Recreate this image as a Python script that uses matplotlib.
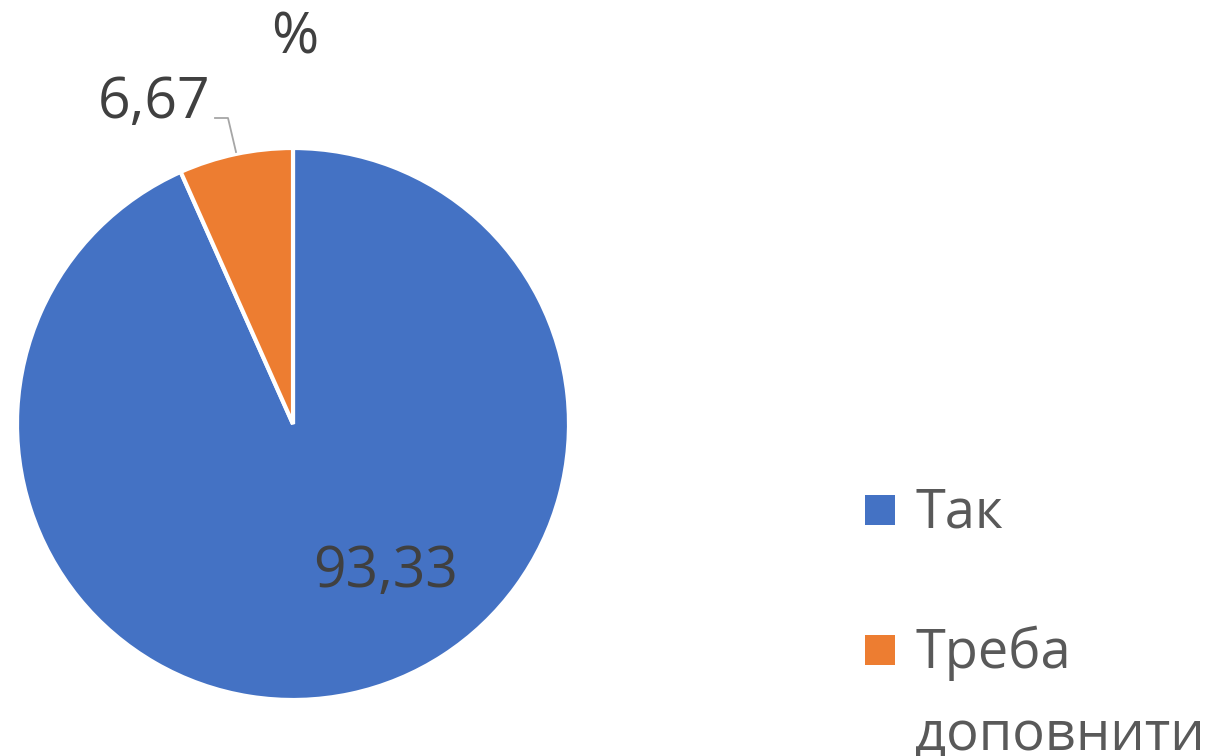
import matplotlib
matplotlib.use("Agg")
import matplotlib.pyplot as plt
from matplotlib.patches import Rectangle

labels = ["Так", "Треба\nдоповнити"]
values = [93.33, 6.67]
value_labels = ["93,33", "6,67"]
colors = ["#4472C4", "#ED7D31"]

W, H = 1215, 756
plt.rcParams["font.family"] = ["Open Sans", "DejaVu Sans"]


def fx(px):
    return px / W


def fy(py):
    return 1 - py / H


fig = plt.figure(figsize=(W / 100, H / 100), dpi=100)

# pie: centre ~ (293, 424), radius ~ 276 px
cx, cy, r = 293, 424, 276
ax = fig.add_axes([fx(cx - r), fy(cy + r), 2 * r / W, 2 * r / H])
wedges, _ = ax.pie(values, colors=colors, startangle=90, counterclock=False,
                   wedgeprops=dict(edgecolor="white", linewidth=3))
ax.set_xlim(-1, 1)
ax.set_ylim(-1, 1)
ax.set_aspect("auto")
ax.axis("off")

# data labels (small slice label wraps, "%" ends up on its own line)
lab_kw = dict(fontsize=41, color="#404040", ha="left", va="baseline")
fig.text(fx(313), fy(587), value_labels[0], **lab_kw)
fig.text(fx(98), fy(118), value_labels[1], **lab_kw)
fig.text(fx(271), fy(53), "%", **lab_kw)

# leader line for the small slice
fig.add_artist(plt.Line2D([fx(215), fx(228), fx(236)], [fy(118), fy(118), fy(152)],
                          color="#A6A6A6", linewidth=1.3))

# legend drawn by hand
legend_base = [528, 668]
for lab, col, y in zip(labels, colors, legend_base):
    fig.add_artist(Rectangle((fx(865), fy(y - 3)), 30 / W, 30 / H,
                             facecolor=col, edgecolor="none"))
    for i, line in enumerate(lab.split("\n")):
        fig.text(fx(915), fy(y + i * 82), line, fontsize=39, color="#595959",
                 ha="left", va="baseline")

fig.savefig("out.png", dpi=100)
